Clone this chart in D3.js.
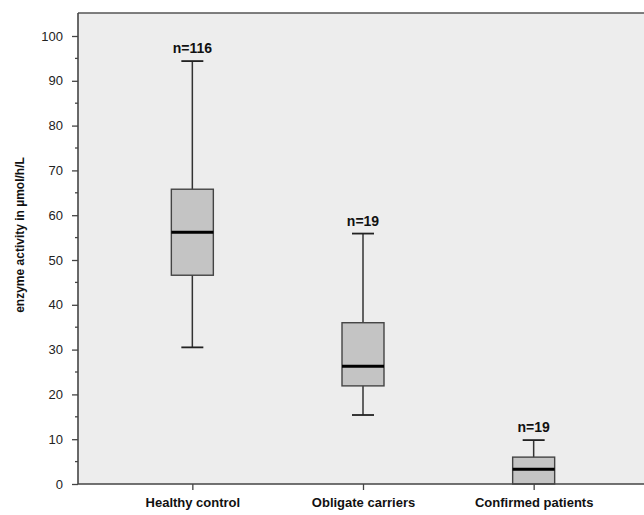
<!DOCTYPE html>
<html>
<head>
<meta charset="utf-8">
<script src="https://cdn.jsdelivr.net/npm/d3@7"></script>
<style>
  body { margin: 0; background: #fff; overflow: hidden; }
  svg { display: block; }
  text { font-family: "Liberation Sans", Arial, sans-serif; }
</style>
</head>
<body>
<div id="chart"></div>
<script>
// ----------------------------
// DATA
// ----------------------------
const groups = ["Healthy control", "Obligate carriers", "Confirmed patients"];
const counts = ["n=116", "n=19", "n=19"];
const whiskerLow = [30.5, 15.4, 0];
const q1 = [46.6, 21.9, 0];
const medians = [56.2, 26.3, 3.3];
const q3 = [65.8, 36.0, 6.0];
const whiskerHigh = [94.4, 55.9, 9.8];
const yTicks = [0, 10, 20, 30, 40, 50, 60, 70, 80, 90, 100];

const boxes = groups.map((g, i) => ({
  group: g, n: counts[i],
  lo: whiskerLow[i], q1: q1[i], med: medians[i], q3: q3[i], hi: whiskerHigh[i]
}));

const width = 644, height = 515;
const margin = { top: 13, right: -4, bottom: 31, left: 78 };

const svg = d3.select("#chart").append("svg")
  .attr("width", width)
  .attr("height", height)
  .style("overflow", "hidden");

const x = d3.scalePoint()
  .domain(groups)
  .range([margin.left, width - margin.right])
  .padding(0.67);

const y = d3.scaleLinear()
  .domain([0, 100])
  .range([height - margin.bottom, 36]);

const plotTop = margin.top;
const plotBottom = y(0);

// plot background (runs past the right edge like the original)
svg.append("rect")
  .attr("x", margin.left)
  .attr("y", plotTop)
  .attr("width", width - margin.left + 30)
  .attr("height", plotBottom - plotTop)
  .attr("fill", "#ededed");

svg.append("line")
  .attr("x1", margin.left).attr("x2", width + 30)
  .attr("y1", plotTop).attr("y2", plotTop)
  .attr("stroke", "#555").attr("stroke-width", 1.6);

// ----------------------------
// Y AXIS
// ----------------------------
const yAxis = svg.append("g")
  .attr("transform", `translate(${margin.left},0)`)
  .call(d3.axisLeft(y).tickValues(yTicks).tickSize(6).tickPadding(9));
yAxis.select(".domain").remove();
yAxis.selectAll("line").attr("stroke", "#444").attr("stroke-width", 1.3);
yAxis.selectAll("text").attr("font-size", "13px").attr("fill", "#222");

// minor ticks
svg.append("g")
  .selectAll("line")
  .data(yTicks.slice(0, -1).map(v => v + 5))
  .join("line")
  .attr("x1", margin.left - 3)
  .attr("x2", margin.left)
  .attr("y1", d => y(d))
  .attr("y2", d => y(d))
  .attr("stroke", "#444")
  .attr("stroke-width", 1.3);

svg.append("line")
  .attr("x1", margin.left).attr("x2", margin.left)
  .attr("y1", plotTop).attr("y2", plotBottom)
  .attr("stroke", "#444").attr("stroke-width", 1.6);

// ----------------------------
// X AXIS
// ----------------------------
const xAxis = svg.append("g")
  .attr("transform", `translate(0,${plotBottom})`)
  .call(d3.axisBottom(x).tickSize(6).tickPadding(8));
xAxis.select(".domain").remove();
xAxis.selectAll("line").attr("stroke", "#444").attr("stroke-width", 1.3);
xAxis.selectAll("text")
  .attr("font-size", "13px")
  .attr("font-weight", "bold")
  .attr("fill", "#111");

// ----------------------------
// BOXES
// ----------------------------
const boxW = 42;
const capW = 22;

const bx = svg.append("g").selectAll("g")
  .data(boxes)
  .join("g");

bx.append("line")
  .attr("x1", d => x(d.group)).attr("x2", d => x(d.group))
  .attr("y1", d => y(d.hi)).attr("y2", d => y(d.lo))
  .attr("stroke", "#333").attr("stroke-width", 1.5);

bx.append("line")
  .attr("x1", d => x(d.group) - capW / 2).attr("x2", d => x(d.group) + capW / 2)
  .attr("y1", d => y(d.hi)).attr("y2", d => y(d.hi))
  .attr("stroke", "#222").attr("stroke-width", 1.8);

bx.filter(d => d.lo > 0).append("line")
  .attr("x1", d => x(d.group) - capW / 2).attr("x2", d => x(d.group) + capW / 2)
  .attr("y1", d => y(d.lo)).attr("y2", d => y(d.lo))
  .attr("stroke", "#222").attr("stroke-width", 1.8);

bx.append("rect")
  .attr("x", d => x(d.group) - boxW / 2)
  .attr("y", d => y(d.q3))
  .attr("width", boxW)
  .attr("height", d => y(d.q1) - y(d.q3))
  .attr("fill", "#c4c4c4")
  .attr("stroke", "#444")
  .attr("stroke-width", 1.4);

bx.append("line")
  .attr("x1", d => x(d.group) - boxW / 2).attr("x2", d => x(d.group) + boxW / 2)
  .attr("y1", d => y(d.med)).attr("y2", d => y(d.med))
  .attr("stroke", "#000").attr("stroke-width", 3);

bx.append("text")
  .attr("x", d => x(d.group))
  .attr("y", d => y(d.hi) - 8)
  .attr("text-anchor", "middle")
  .attr("font-size", "14px")
  .attr("font-weight", "bold")
  .attr("fill", "#111")
  .text(d => d.n);

// bottom axis line drawn over the boxes
svg.append("line")
  .attr("x1", margin.left).attr("x2", width + 30)
  .attr("y1", plotBottom).attr("y2", plotBottom)
  .attr("stroke", "#444").attr("stroke-width", 1.6);

// ----------------------------
// Y TITLE
// ----------------------------
svg.append("text")
  .attr("transform", `translate(24,235) rotate(-90)`)
  .attr("text-anchor", "middle")
  .attr("font-size", "12px")
  .attr("font-weight", "bold")
  .attr("fill", "#111")
  .text("enzyme activity in µmol/h/L");
</script>
</body>
</html>
